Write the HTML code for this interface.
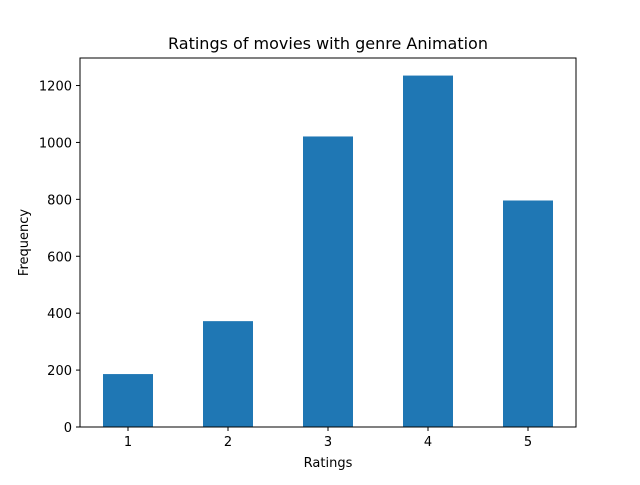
<!DOCTYPE html>
<html><head><meta charset="utf-8"><style>
body{margin:0;background:#fff;}
text{font-family:"DejaVu Sans","Liberation Sans",sans-serif;fill:#000;}
</style></head><body>
<svg id="chart" width="640" height="480" xmlns="http://www.w3.org/2000/svg">
<rect width="640" height="480" fill="#fff"/>
<text x="328" y="49" font-size="16" text-anchor="middle">Ratings of movies with genre Animation</text>
<g id="bars"></g>
<g id="xticks"></g>
<g id="yticks"></g>
<rect x="80" y="58" width="496" height="369" fill="none" stroke="#000" stroke-width="1"/>
<text x="328" y="467" font-size="13" text-anchor="middle">Ratings</text>
<text transform="translate(28,242.5) rotate(-90)" font-size="13" text-anchor="middle">Frequency</text>
</svg>
<script>
const categories = ["1","2","3","4","5"];
const frequencies = [186, 372, 1021, 1235, 796];
const yTickValues = [0, 200, 400, 600, 800, 1000, 1200];

const L=80,R=576,T=58,B=427;
const yMax = Math.max(...frequencies)*1.05;
const n = categories.length;
const x0 = -0.48, x1 = n - 1 + 0.48;
const xs = i => L + (i - x0) * (R - L) / (x1 - x0);
const ys = v => B - v * (B - T) / yMax;
const bw = 0.5 * (R - L) / (x1 - x0);
const NS="http://www.w3.org/2000/svg";
const bars=document.getElementById('bars'), xt=document.getElementById('xticks'), yt=document.getElementById('yticks');
frequencies.forEach((v,i)=>{
  const r=document.createElementNS(NS,'rect');
  r.setAttribute('x',xs(i)-bw/2);r.setAttribute('y',ys(v));
  r.setAttribute('width',bw);r.setAttribute('height',B-ys(v));
  r.setAttribute('fill','#1f77b4');
  
  
  bars.appendChild(r);
});
categories.forEach((c,i)=>{
  const l=document.createElementNS(NS,'line');
  l.setAttribute('x1',xs(i));l.setAttribute('x2',xs(i));l.setAttribute('y1',B);l.setAttribute('y2',B+4);l.setAttribute('stroke','#000');
  
  
  xt.appendChild(l);
  const t=document.createElementNS(NS,'text');
  t.setAttribute('x',xs(i));t.setAttribute('y',B+19);t.setAttribute('font-size','13');t.setAttribute('text-anchor','middle');
  t.textContent=c;
  
  
  xt.appendChild(t);
});
yTickValues.forEach(v=>{
  const l=document.createElementNS(NS,'line');
  l.setAttribute('x1',L-4);l.setAttribute('x2',L);l.setAttribute('y1',ys(v));l.setAttribute('y2',ys(v));l.setAttribute('stroke','#000');
  
  
  yt.appendChild(l);
  const t=document.createElementNS(NS,'text');
  t.setAttribute('x',L-8);t.setAttribute('y',ys(v)+5);t.setAttribute('font-size','13');t.setAttribute('text-anchor','end');
  t.textContent=v;
  
  
  yt.appendChild(t);
});
</script>
</body></html>
